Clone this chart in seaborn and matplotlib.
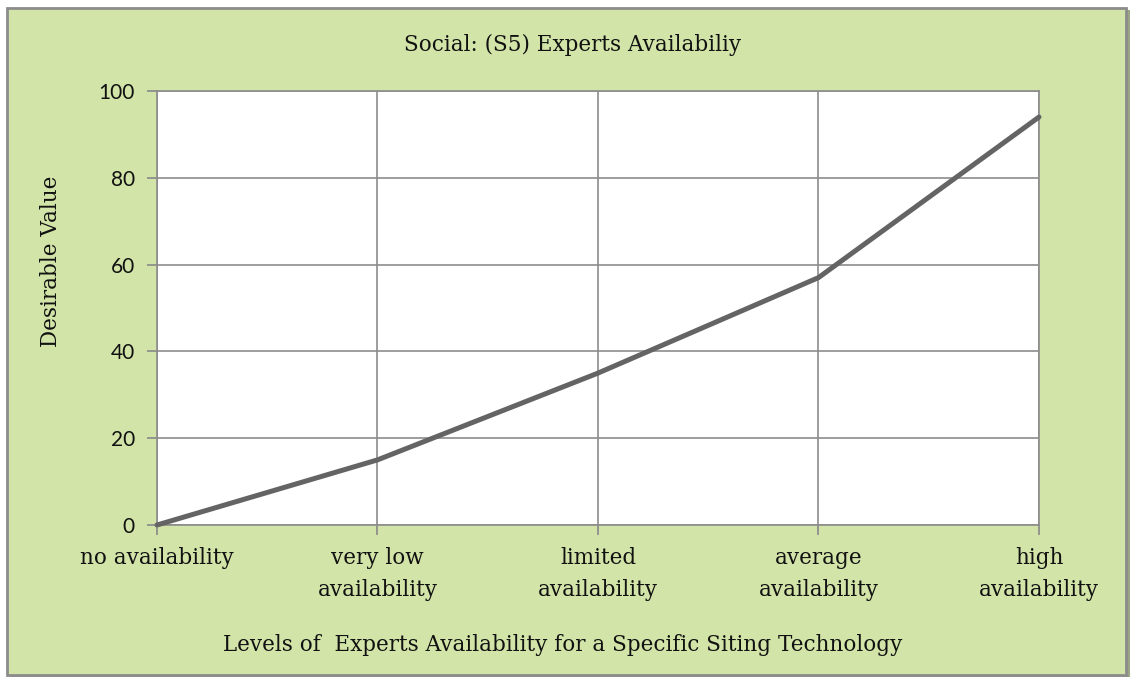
import matplotlib
matplotlib.use('Agg')
import matplotlib.pyplot as plt
import seaborn as sns
import pandas as pd
from matplotlib.patches import Rectangle

# data
levels = ['no availability', 'very low\navailability', 'limited\navailability',
          'average\navailability', 'high\navailability']
desirable = [0, 15, 35, 57, 94]
yticks = [0, 20, 40, 60, 80, 100]

df = pd.DataFrame({'level': levels, 'value': desirable})

sns.set_style('white')
plt.rcParams['font.family'] = ['DejaVu Serif']
plt.rcParams['text.color'] = '#111111'
plt.rcParams['xtick.color'] = '#888888'
plt.rcParams['ytick.color'] = '#888888'
plt.rcParams['xtick.labelcolor'] = '#111111'
plt.rcParams['ytick.labelcolor'] = '#111111'

fig = plt.figure(figsize=(11.36, 6.79), dpi=100)
fig.patch.set_facecolor('white')

# green chart background with grey frame (behind the axes)
fig.patches.append(Rectangle((0.0095, 0.0030), 0.985, 0.982, transform=fig.transFigure,
                             facecolor='#9aa585', edgecolor='none', zorder=-2))
fig.patches.append(Rectangle((0.0062, 0.0059), 0.985, 0.982, transform=fig.transFigure,
                             facecolor='#d2e4a8', edgecolor='#8c8c8c', linewidth=2, zorder=-1))

ax = fig.add_axes([0.1382, 0.2268, 0.7764, 0.6392])
ax.set_facecolor('white')
sns.lineplot(data=df, x='level', y='value', ax=ax, color='#646464', linewidth=3.6,
             sort=False, clip_on=False, zorder=5)

ax.set_xlim(0, len(levels) - 1)
ax.set_ylim(0, 100)
ax.set_yticks(yticks)
ax.set_yticklabels([str(v) for v in yticks], family='Lato', fontsize=15)
ax.set_xticks(range(len(levels)))
ax.set_xticklabels(levels, fontsize=15.5, linespacing=1.55)
ax.tick_params(axis='y', length=7, width=1.2, pad=9)
ax.tick_params(axis='x', length=7, width=1.2, pad=9)
ax.tick_params(left=True, bottom=True)
ax.grid(True, color='#8c8c8c', linewidth=1.2)
for s in ax.spines.values():
    s.set_color('#8c8c8c')
    s.set_linewidth(1.2)

ax.set_xlabel('')
ax.set_ylabel('')

fig.text(0.5044, 0.9337, 'Social: (S5) Experts Availabiliy', ha='center', va='center', fontsize=15.5)
fig.text(0.4956, 0.050, 'Levels of  Experts Availability for a Specific Siting Technology',
         ha='center', va='center', fontsize=15.5)
fig.text(0.045, 0.6156, 'Desirable Value', ha='center', va='center', rotation=90, fontsize=15.5)

fig.savefig('out.png', dpi=100, facecolor=fig.get_facecolor())
